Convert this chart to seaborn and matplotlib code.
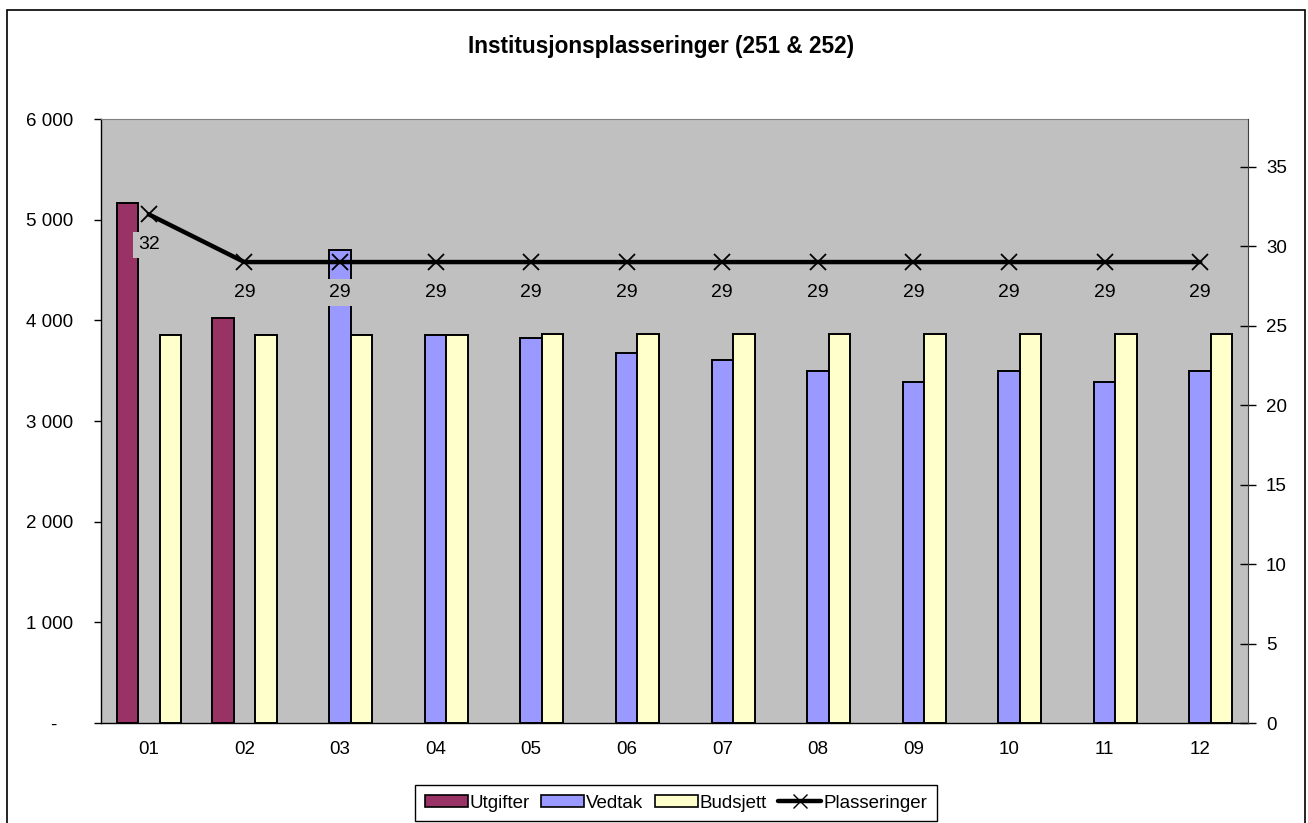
import numpy as np
import pandas as pd
import matplotlib.pyplot as plt
import seaborn as sns
from matplotlib.patches import Patch, Rectangle
from matplotlib.lines import Line2D
from matplotlib.ticker import FuncFormatter

months = ['01', '02', '03', '04', '05', '06', '07', '08', '09', '10', '11', '12']
utgifter = [5170, 4020, np.nan, np.nan, np.nan, np.nan, np.nan, np.nan, np.nan, np.nan, np.nan, np.nan]
vedtak = [np.nan, np.nan, 4700, 3850, 3820, 3680, 3610, 3500, 3390, 3500, 3390, 3500]
budsjett = [3855, 3855, 3855, 3855, 3865, 3865, 3865, 3865, 3865, 3865, 3865, 3865]
plasseringer = [32, 29, 29, 29, 29, 29, 29, 29, 29, 29, 29, 29]

series_names = ['Utgifter', 'Vedtak', 'Budsjett']
colors = ['#993366', '#9999FF', '#FFFFCC']
bg = '#C0C0C0'


def build_frame():
    frames = []
    for name, vals in zip(series_names, [utgifter, vedtak, budsjett]):
        frames.append(pd.DataFrame({'month': months, 'serie': name, 'value': vals}))
    return pd.concat(frames, ignore_index=True)


def y_fmt(v, pos):
    if v == 0:
        return '-   '
    return f'{v:,.0f}'.replace(',', ' ')


def draw():
    sns.set_style('white')
    plt.rcParams['font.family'] = ['Liberation Sans', 'DejaVu Sans']
    plt.rcParams['text.color'] = 'black'
    plt.rcParams['xtick.color'] = 'black'
    plt.rcParams['ytick.color'] = 'black'
    fs = 13.5

    fig = plt.figure(figsize=(13.08, 8.23), dpi=100)
    ax = fig.add_axes([101 / 1308, 1 - 723 / 823, (1248 - 101) / 1308, (723 - 119) / 823])
    ax.set_facecolor(bg)

    df = build_frame()
    sns.barplot(data=df, x='month', y='value', hue='serie', order=months,
                hue_order=series_names, palette=colors, saturation=1,
                width=0.675, edgecolor='black', linewidth=1.4,
                errorbar=None, legend=False, ax=ax)
    ax.set_xlim(-0.5, 11.5)
    ax.set_ylim(0, 6000)
    ax.set_yticks(np.arange(0, 6001, 1000))
    ax.yaxis.set_major_formatter(FuncFormatter(y_fmt))
    ax.set_xlabel('')
    ax.set_ylabel('')

    # ticks between categories, labels in the middle
    ax.set_xticks(np.arange(-0.5, 12, 1))
    ax.set_xticklabels([''] * 13)
    ax.set_xticks(np.arange(12), minor=True)
    ax.set_xticklabels(months, minor=True)
    ax.tick_params(axis='x', which='major', direction='out', length=7, width=1, color='black')
    ax.tick_params(axis='x', which='minor', length=0, pad=13, labelsize=fs)
    ax.tick_params(axis='y', direction='out', length=5, width=1, color='black', pad=15, labelsize=fs)

    for side in ['left', 'bottom']:
        ax.spines[side].set_color('black')
        ax.spines[side].set_linewidth(1)
    ax.spines['top'].set_color('#808080')
    ax.spines['right'].set_visible(False)

    ax2 = ax.twinx()
    sns.lineplot(x=np.arange(12), y=plasseringer, ax=ax2, color='black',
                 linewidth=3.2, marker='x', markersize=12, markeredgewidth=1.3,
                 markeredgecolor='black')
    ax2.set_ylim(0, 38)
    ax2.set_yticks(np.arange(0, 36, 5))
    ax2.tick_params(axis='y', direction='inout', length=12, width=1, color='black', pad=7, labelsize=fs)
    for side in ['top', 'left', 'bottom']:
        ax2.spines[side].set_visible(False)
    ax2.spines['right'].set_color('#404040')
    ax2.set_xlim(-0.5, 11.5)

    for i, v in enumerate(plasseringer):
        ax2.annotate(str(v), (i, v), xytext=(0, -22), textcoords='offset points',
                     ha='center', va='center', fontsize=fs + 0.5,
                     bbox=dict(boxstyle='square,pad=0.25', fc=bg, ec='none'))

    fig.text(661 / 1308, 1 - 47 / 823, 'Institusjonsplasseringer (251 & 252)',
             ha='center', va='center', fontsize=16.3, fontweight='bold')

    handles = [Patch(facecolor=c, edgecolor='black', linewidth=1.2) for c in colors]
    handles.append(Line2D([], [], color='black', linewidth=3.2, marker='x',
                          markersize=10, markeredgewidth=1))
    leg = fig.legend(handles, series_names + ['Plasseringer'], loc='center',
                     bbox_to_anchor=(676 / 1308, 1 - 803 / 823), ncol=4,
                     frameon=True, fancybox=False, edgecolor='black', framealpha=1,
                     fontsize=fs, handlelength=2.3, handleheight=0.6,
                     handletextpad=0.1, columnspacing=0.6, borderpad=0.5)
    leg.get_frame().set_linewidth(1)

    fig.add_artist(Rectangle((7 / 1308, -0.05), (1305 - 7) / 1308, 1 - 10 / 823 + 0.05,
                             transform=fig.transFigure, fill=False, edgecolor='black',
                             linewidth=1.2, clip_on=False))

    fig.savefig('out.png', dpi=100)


if __name__ == '__main__':
    draw()
